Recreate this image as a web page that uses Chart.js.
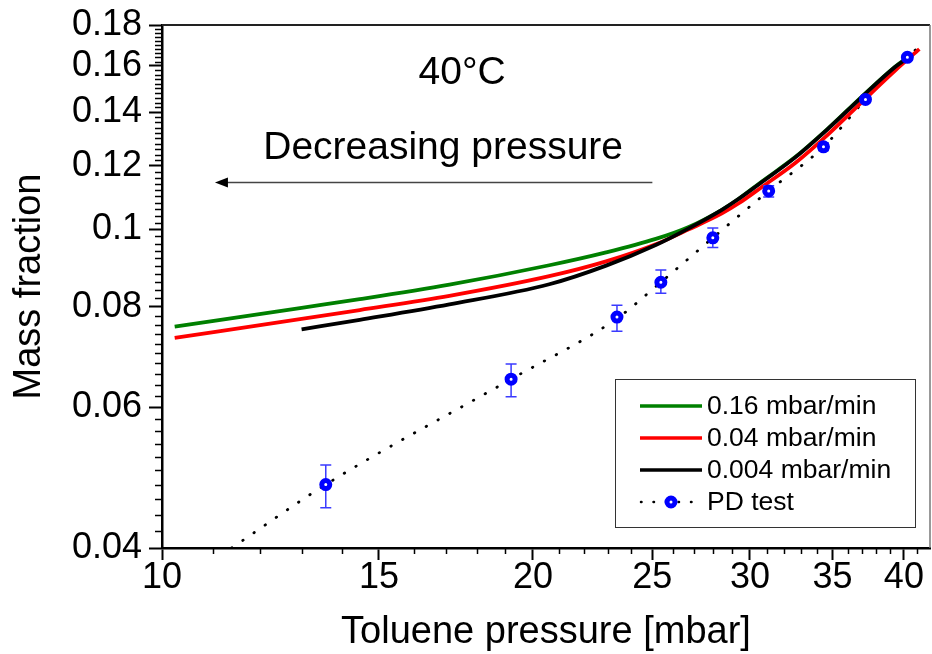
<!DOCTYPE html>
<html>
<head>
<meta charset="utf-8">
<script src="https://cdn.jsdelivr.net/npm/chart.js@4.4.1/dist/chart.umd.min.js"></script>
<style>
  body { margin: 0; background: #fff; }
  #wrap { width: 932px; height: 654px; }
</style>
</head>
<body>
<div id="wrap"><canvas id="chart" width="932" height="654"></canvas></div>
<script>
// desorption curves (toluene pressure [mbar] -> mass fraction)
const greenX = [10.24, 12.98, 14.47, 17.11, 20.62, 22.93, 25.16, 26.76, 28.47, 29.38, 30.66, 32.67, 34.74, 36.94, 39.37, 40.3];
const greenY = [0.0756, 0.0798, 0.0818, 0.0853, 0.0902, 0.0936, 0.0973, 0.1007, 0.1058, 0.1092, 0.1147, 0.1232, 0.1338, 0.1463, 0.1598, 0.1640];

const redX = [10.24, 12.98, 14.47, 17.11, 20.62, 22.93, 25.16, 26.76, 28.47, 29.38, 30.66, 32.67, 34.74, 36.94, 39.37, 41.17];
const redY = [0.0732, 0.0773, 0.0793, 0.0826, 0.0874, 0.0912, 0.0958, 0.1000, 0.1047, 0.1078, 0.1129, 0.1211, 0.1315, 0.1440, 0.1580, 0.1679];

const blackX = [12.98, 14.47, 17.11, 20.62, 22.93, 25.16, 26.76, 28.47, 29.38, 30.66, 32.67, 34.74, 36.94, 39.37, 40.18];
const blackY = [0.0750, 0.0771, 0.0806, 0.0854, 0.0901, 0.0956, 0.1003, 0.1058, 0.1092, 0.1145, 0.1231, 0.1337, 0.1461, 0.1596, 0.1633];

// PD test points with error bars
const pdX = [13.58, 19.20, 23.40, 25.40, 27.99, 31.07, 34.42, 37.23, 40.26];
const pdY = [0.0480, 0.0650, 0.0777, 0.0859, 0.0976, 0.1117, 0.1268, 0.1453, 0.1640];
const pdLow = [0.0449, 0.0618, 0.0746, 0.0832, 0.0949, 0.1098, 0.1255, 0.1440, 0.1628];
const pdHigh = [0.0508, 0.0679, 0.0804, 0.0890, 0.1004, 0.1134, 0.1282, 0.1466, 0.1652];

// dotted guide through the PD points
const fitX = [11.39, 13.58, 19.20, 23.40, 25.40, 27.99, 31.07, 34.42, 37.23, 40.26, 41.61];
const fitY = [0.0400, 0.0480, 0.0650, 0.0774, 0.0859, 0.0976, 0.1117, 0.1268, 0.1453, 0.1640, 0.1717];

const seriesLabels = ['0.16 mbar/min', '0.04 mbar/min', '0.004 mbar/min', 'PD test'];

const xTicks = [10, 15, 20, 25, 30, 35, 40];
const xTickLabels = ['10', '15', '20', '25', '30', '35', '40'];
const xMinor = [11, 12, 13, 14, 16, 17, 18, 19, 21, 22, 23, 24, 26, 27, 28, 29, 31, 32, 33, 34, 36, 37, 38, 39, 41];
const yTicks = [0.04, 0.06, 0.08, 0.1, 0.12, 0.14, 0.16, 0.18];
const yTickLabels = ['0.04', '0.06', '0.08', '0.1', '0.12', '0.14', '0.16', '0.18'];

const FONT = '"Liberation Sans", Arial, Helvetica, sans-serif';
Chart.defaults.font.family = FONT;
Chart.defaults.color = '#000';

function xy(xs, ys) {
    return xs.map((x, i) => ({x: x, y: ys[i]}));
}

const errorBars = {
    id: 'errorBars',
    beforeDatasetDraw(chart, args) {
        if (args.index !== 4) return;
        const {ctx} = chart;
        const x = chart.scales.x, y = chart.scales.y;
        ctx.save();
        ctx.strokeStyle = '#3a3aff';
        ctx.lineWidth = 1.5;
        pdX.forEach((v, i) => {
            const px = x.getPixelForValue(v);
            const lo = y.getPixelForValue(pdLow[i]);
            const hi = y.getPixelForValue(pdHigh[i]);
            ctx.beginPath();
            ctx.moveTo(px, lo); ctx.lineTo(px, hi);
            ctx.moveTo(px - 5.5, lo); ctx.lineTo(px + 5.5, lo);
            ctx.moveTo(px - 5.5, hi); ctx.lineTo(px + 5.5, hi);
            ctx.stroke();
        });
        ctx.restore();
    }
};

const decorations = {
    id: 'decorations',
    afterDraw(chart) {
        const {ctx, chartArea: a} = chart;
        const x = chart.scales.x, y = chart.scales.y;
        ctx.save();

        // minor ticks
        ctx.strokeStyle = '#000';
        ctx.lineWidth = 1.5;
        ctx.beginPath();
        xMinor.forEach(v => {
            const px = Math.round(x.getPixelForValue(v)) + 0.5;
            ctx.moveTo(px, a.bottom); ctx.lineTo(px, a.bottom + 6);
        });
        for (let k = 21; k < 90; k++) {
            if (k % 10 === 0) continue;
            const py = Math.round(y.getPixelForValue(k * 0.002)) + 0.5;
            ctx.moveTo(a.left, py); ctx.lineTo(a.left - 7, py);
        }
        ctx.stroke();

        // top / right frame
        ctx.strokeStyle = '#222';
        ctx.lineWidth = 2;
        ctx.beginPath();
        ctx.moveTo(a.left, a.top); ctx.lineTo(a.right, a.top);
        ctx.stroke();
        ctx.strokeStyle = '#777';
        ctx.lineWidth = 1.5;
        ctx.beginPath();
        ctx.moveTo(a.right, a.top); ctx.lineTo(a.right, a.bottom);
        ctx.stroke();

        // annotations
        ctx.fillStyle = '#000';
        ctx.font = '39px ' + FONT;
        ctx.textAlign = 'center';
        ctx.textBaseline = 'middle';
        ctx.fillText('40°C', x.getPixelForValue(17.52), y.getPixelForValue(0.1566));
        ctx.fillText('Decreasing pressure', x.getPixelForValue(16.91), y.getPixelForValue(0.1262));

        const ay = Math.round(y.getPixelForValue(0.1147)) + 0.5;
        const tail = x.getPixelForValue(25.0), tip = x.getPixelForValue(11.04);
        ctx.strokeStyle = '#444';
        ctx.lineWidth = 1.3;
        ctx.beginPath();
        ctx.moveTo(tail, ay); ctx.lineTo(tip + 8, ay);
        ctx.stroke();
        ctx.beginPath();
        ctx.moveTo(tip, ay); ctx.lineTo(tip + 13, ay - 5); ctx.lineTo(tip + 13, ay + 5);
        ctx.closePath();
        ctx.fill();

        // legend box
        const bx = a.right - 315, by = a.bottom - 169, bw = 300, bh = 148;
        ctx.fillStyle = '#fff';
        ctx.fillRect(bx, by, bw, bh);
        ctx.strokeStyle = '#333';
        ctx.lineWidth = 1;
        ctx.strokeRect(bx + 0.5, by + 0.5, bw, bh);
        const ds = chart.data.datasets;
        const rows = [ds[3], ds[2], ds[1]];
        ctx.font = '26.5px ' + FONT;
        ctx.textAlign = 'left';
        rows.forEach((d, i) => {
            const ry = by + 27 + i * 32;
            ctx.strokeStyle = d.borderColor;
            ctx.lineWidth = 3.5;
            ctx.beginPath();
            ctx.moveTo(bx + 25, ry); ctx.lineTo(bx + 87, ry);
            ctx.stroke();
            ctx.fillStyle = '#000';
            ctx.fillText(seriesLabels[i], bx + 92, ry + 1);
        });
        const ry = by + 123;
        ctx.strokeStyle = '#000';
        ctx.lineWidth = 2.5;
        ctx.lineCap = 'round';
        ctx.setLineDash([0.5, 12]);
        ctx.beginPath();
        ctx.moveTo(bx + 26, ry); ctx.lineTo(bx + 87, ry);
        ctx.stroke();
        ctx.setLineDash([]);
        ctx.strokeStyle = '#0000ff';
        ctx.lineWidth = 5;
        ctx.fillStyle = '#fff';
        ctx.beginPath();
        ctx.arc(bx + 56, ry, 4, 0, Math.PI * 2);
        ctx.fill();
        ctx.stroke();
        ctx.fillStyle = '#000';
        ctx.fillText(seriesLabels[3], bx + 92, ry + 1);

        ctx.restore();
    }
};

const config = {
    type: 'line',
    data: {
        datasets: [
            {
                label: 'PD guide',
                data: xy(fitX, fitY),
                borderColor: '#000',
                borderWidth: 2.8,
                borderDash: [0.5, 13],
                borderCapStyle: 'round',
                pointRadius: 0,
                cubicInterpolationMode: 'monotone',
                fill: false,
                order: 4,
            },
            {
                label: seriesLabels[2],
                data: xy(blackX, blackY),
                borderColor: '#000000',
                borderWidth: 3.8,
                pointRadius: 0,
                cubicInterpolationMode: 'monotone',
                fill: false,
                order: 1,
            },
            {
                label: seriesLabels[1],
                data: xy(redX, redY),
                borderColor: '#ff0000',
                borderWidth: 3.8,
                pointRadius: 0,
                cubicInterpolationMode: 'monotone',
                fill: false,
                order: 2,
            },
            {
                label: seriesLabels[0],
                data: xy(greenX, greenY),
                borderColor: '#008000',
                borderWidth: 3.8,
                pointRadius: 0,
                cubicInterpolationMode: 'monotone',
                fill: false,
                order: 3,
            },
            {
                label: seriesLabels[3],
                data: xy(pdX, pdY),
                showLine: false,
                borderColor: '#0000ff',
                backgroundColor: '#ffffff',
                pointRadius: 4,
                pointBorderWidth: 5,
                pointStyle: 'circle',
                order: 0,
            },
        ],
    },
    options: {
        responsive: false,
        animation: false,
        events: [],
        layout: {
            autoPadding: false,
            padding: {top: 25, right: 2, left: 0, bottom: 0},
        },
        plugins: {
            legend: {display: false},
            tooltip: {enabled: false},
        },
        scales: {
            x: {
                type: 'logarithmic',
                min: 10,
                max: 42,
                afterBuildTicks: (scale) => { scale.ticks = xTicks.map(v => ({value: v})); },
                afterFit: (scale) => {
                    scale.height = 106;
                    scale.paddingLeft = 0;
                    scale.paddingRight = 0;
                },
                ticks: {
                    autoSkip: false,
                    maxRotation: 0,
                    minRotation: 0,
                    padding: 0,
                    font: {size: 36, lineHeight: 1},
                    callback: (val, i) => xTickLabels[i],
                },
                grid: {drawOnChartArea: false, tickLength: 12, tickWidth: 2, tickColor: '#000'},
                border: {display: true, color: '#000', width: 2.5},
                title: {
                    display: true,
                    text: 'Toluene pressure [mbar]',
                    font: {size: 38, lineHeight: 1},
                    padding: {top: 0, bottom: 2},
                },
            },
            y: {
                type: 'logarithmic',
                min: 0.04,
                max: 0.18,
                afterBuildTicks: (scale) => { scale.ticks = yTicks.map(v => ({value: v})); },
                afterFit: (scale) => {
                    scale.width = 162;
                    scale.paddingTop = 0;
                    scale.paddingBottom = 0;
                },
                ticks: {
                    autoSkip: false,
                    padding: 7,
                    font: {size: 36, lineHeight: 1},
                    callback: (val, i) => yTickLabels[i],
                },
                grid: {drawOnChartArea: false, tickLength: 13, tickWidth: 2, tickColor: '#000'},
                border: {display: true, color: '#000', width: 2.5},
                title: {
                    display: true,
                    text: 'Mass fraction',
                    font: {size: 38, lineHeight: 1.2},
                    padding: {top: 7, bottom: 0},
                },
            },
        },
    },
    plugins: [errorBars, decorations],
};

new Chart(document.getElementById('chart'), config);
</script>
</body>
</html>
